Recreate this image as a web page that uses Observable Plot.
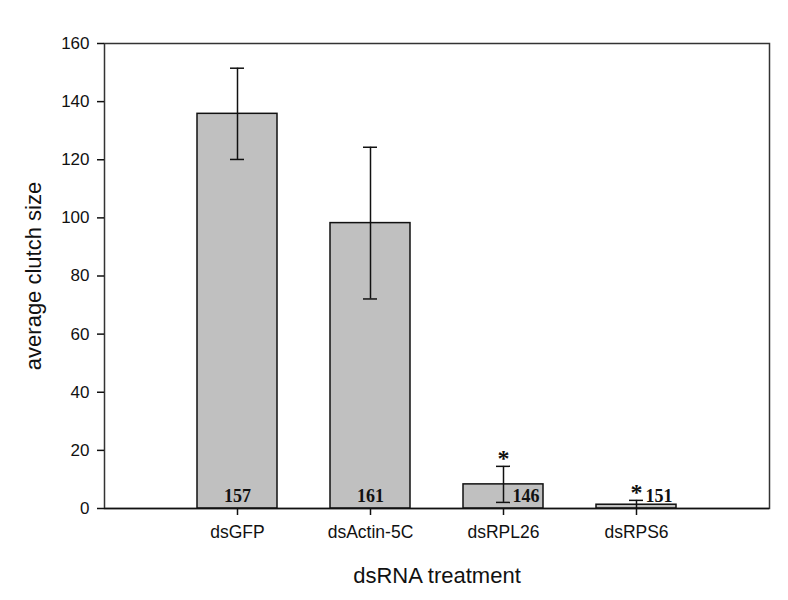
<!DOCTYPE html>
<html><head><meta charset="utf-8">
<script src="https://cdn.jsdelivr.net/npm/d3@7"></script>
<script src="https://cdn.jsdelivr.net/npm/@observablehq/plot@0.6"></script>
<style>body{margin:0;background:#fff;} svg{display:block;}</style>
</head><body><div id="chart"></div>
<script>
const categories = ["dsGFP", "dsActin-5C", "dsRPL26", "dsRPS6"];
const means = [135.8, 98.2, 8.3, 1.3];
const errors = [15.7, 26.1, 6.2, 1.5];
const nLabels = ["157", "161", "146", "151"];
const significant = [false, false, true, true];
const yTicks = [0, 20, 40, 60, 80, 100, 120, 140, 160];

const data = categories.map((c, i) => ({
  cat: c, mean: means[i], err: errors[i],
  hi: means[i] + errors[i], lo: means[i] - errors[i],
  n: nLabels[i], sig: significant[i], small: means[i] < 20
}));

const serif = "Liberation Serif, Times New Roman, serif";
const chart = Plot.plot({
  width: 788, height: 600,
  marginLeft: 104, marginRight: 19, marginTop: 43, marginBottom: 92,
  style: {fontFamily: "Liberation Sans, Arial, sans-serif", background: "#fff", fontSize: "17px"},
  x: {domain: categories, paddingInner: 0.4, paddingOuter: 0.7, label: null},
  y: {domain: [0, 160], label: null},
  marks: [
    Plot.frame({stroke: "#333", strokeWidth: 1.5}),
    Plot.barY(data, {x: "cat", y: "mean", fill: "#c0c0c0", stroke: "#111", strokeWidth: 1.5}),
    Plot.ruleX(data, {x: "cat", y1: d => Math.max(d.lo, 0), y2: "hi", stroke: "#111", strokeWidth: 1.5}),
    Plot.tickY(data, {x: "cat", y: "hi", stroke: "#111", strokeWidth: 1.5, insetLeft: 33, insetRight: 33}),
    Plot.tickY(data.filter(d => d.lo > 0), {x: "cat", y: "lo", stroke: "#111", strokeWidth: 1.5, insetLeft: 33, insetRight: 33}),
    Plot.ruleY([0], {stroke: "#111", strokeWidth: 1.5}),
    Plot.axisY({ticks: yTicks, tickSize: 7, tickPadding: 8, fontSize: 17, fill: "#111", stroke: "#111", strokeWidth: 1.5, label: null}),
    Plot.axisX({tickSize: 7, tickPadding: 10, fontSize: 17.5, fill: "#111", stroke: "#111", strokeWidth: 1.5, label: null}),
    Plot.text(data.filter(d => !d.small), {x: "cat", y: () => 0, text: "n", dy: -12, fontFamily: serif, fontWeight: "bold", fontSize: 18, fill: "#111"}),
    Plot.text(data.filter(d => d.small), {x: "cat", y: () => 0, text: "n", dy: -12, dx: 9, textAnchor: "start", fontFamily: serif, fontWeight: "bold", fontSize: 18, fill: "#111"}),
    Plot.text(data.filter(d => d.sig), {x: "cat", y: "hi", text: () => "*", dy: -8, fontFamily: serif, fontWeight: "bold", fontSize: 24, fill: "#111"}),
    Plot.text(["dsRNA treatment"], {frameAnchor: "bottom", textAnchor: "middle", lineAnchor: "middle", dy: 67, fontSize: 22, fill: "#111"}),
    Plot.text(["average clutch size"], {frameAnchor: "left", textAnchor: "middle", lineAnchor: "middle", dx: -71, rotate: -90, fontSize: 22, fill: "#111"})
  ]
});
document.getElementById("chart").append(chart);
</script>
</body></html>
